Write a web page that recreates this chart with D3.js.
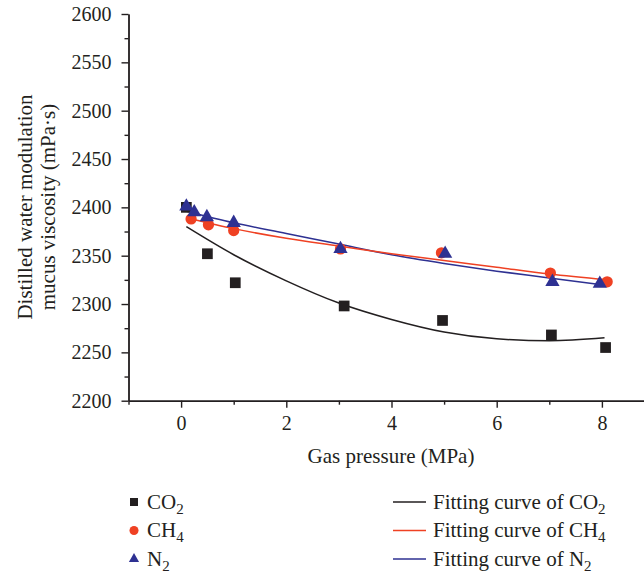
<!DOCTYPE html>
<html>
<head>
<meta charset="utf-8">
<script src="https://cdn.jsdelivr.net/npm/d3@7"></script>
<style>
  body { margin: 0; background: #fff; }
  svg { display: block; font-family: "Liberation Serif", "DejaVu Serif", serif; fill: #231f20; }
  .axis path, .axis line { stroke: #231f20; stroke-width: 1.4; }
  .axis text { font-size: 20px; fill: #231f20; font-family: "Liberation Serif", serif; }
</style>
</head>
<body>
<script>
// measured points (gas pressure MPa, viscosity mPa·s)
var co2X = [0.1, 0.5, 1.03, 3.1, 4.97, 7.04, 8.07];
var co2Y = [2400, 2352, 2322, 2298, 2283, 2268, 2255];
var ch4X = [0.19, 0.52, 1.0, 3.03, 4.95, 7.02, 8.1];
var ch4Y = [2388, 2382, 2376, 2357, 2353, 2332, 2323];
var n2X = [0.1, 0.25, 0.49, 1.0, 3.03, 5.02, 7.06, 7.96];
var n2Y = [2401, 2395, 2390, 2384, 2357, 2352, 2323, 2321];

// fitting curves
var co2FitX = [0.1, 1, 2, 3, 4, 5, 6, 7, 8.05];
var co2Fit = [2380, 2351, 2324, 2301, 2284, 2271, 2264, 2262, 2265];
var ch4FitX = [0.19, 1, 2, 3, 4, 5, 6, 7, 8.1];
var ch4Fit = [2388, 2378, 2368, 2360, 2352, 2345, 2338, 2331, 2325];
var n2FitX = [0.1, 1, 2, 3, 4, 5, 6, 7, 7.97];
var n2Fit = [2396, 2384, 2373, 2362, 2351, 2342, 2334, 2327, 2320];

var xMajor = [0, 2, 4, 6, 8];
var xMinor = [-1, 1, 3, 5, 7];
var yMajor = [2200, 2250, 2300, 2350, 2400, 2450, 2500, 2550, 2600];
var yMinor = [2225, 2275, 2325, 2375, 2425, 2475, 2525, 2575];

var BLACK = '#231f20', RED = '#ef4123', BLUE = '#2e3192';

var width = 644, height = 576;
var svg = d3.select('body').append('svg')
  .attr('width', width)
  .attr('height', height);

var x = d3.scaleLinear().domain([-1, 9]).range([128.5, 654.5]);
var y = d3.scaleLinear().domain([2200, 2600]).range([400.7, 14]);

function zip(xs, ys) {
  return xs.map(function(v, i) { return {x: v, y: ys[i]}; });
}

// axes
svg.append('g').attr('class', 'axis')
  .attr('transform', 'translate(0,' + y(2200) + ')')
  .call(d3.axisBottom(x).tickValues(xMinor).tickSize(4).tickFormat('').tickSizeOuter(0));
svg.append('g').attr('class', 'axis')
  .attr('transform', 'translate(0,' + y(2200) + ')')
  .call(d3.axisBottom(x).tickValues(xMajor).tickSize(7).tickPadding(8).tickFormat(d3.format('d')).tickSizeOuter(0));

svg.append('g').attr('class', 'axis')
  .attr('transform', 'translate(' + x(-1) + ',0)')
  .call(d3.axisLeft(y).tickValues(yMinor).tickSize(4).tickFormat('').tickSizeOuter(0));
svg.append('g').attr('class', 'axis')
  .attr('transform', 'translate(' + x(-1) + ',0)')
  .call(d3.axisLeft(y).tickValues(yMajor).tickSize(7).tickPadding(10).tickFormat(d3.format('d')).tickSizeOuter(0));

// axis titles
svg.append('text')
  .attr('x', 391).attr('y', 463)
  .attr('text-anchor', 'middle')
  .style('font-size', '21px')
  .text('Gas pressure (MPa)');

var yTitle = svg.append('text')
  .attr('transform', 'translate(32,207) rotate(-90)')
  .attr('text-anchor', 'middle')
  .style('font-size', '21px');
yTitle.append('tspan').attr('x', 0).attr('y', 0).text('Distilled water modulation');
yTitle.append('tspan').attr('x', 0).attr('y', 23).text('mucus viscosity (mPa\u00b7s)');

// fitting curves
var line = d3.line()
  .x(function(d) { return x(d.x); })
  .y(function(d) { return y(d.y); })
  .curve(d3.curveMonotoneX);

var fits = [
  {data: zip(co2FitX, co2Fit), color: BLACK},
  {data: zip(n2FitX, n2Fit), color: BLUE},
  {data: zip(ch4FitX, ch4Fit), color: RED}
];
fits.forEach(function(f) {
  svg.append('path')
    .datum(f.data)
    .attr('d', line)
    .attr('fill', 'none')
    .attr('stroke', f.color)
    .attr('stroke-width', 1.5);
});

// markers
var series = [
  {data: zip(co2X, co2Y), color: BLACK, type: d3.symbolSquare, size: 115},
  {data: zip(ch4X, ch4Y), color: RED, type: d3.symbolCircle, size: 100},
  {data: zip(n2X, n2Y), color: BLUE, type: d3.symbolTriangle, size: 88}
];
series.forEach(function(s) {
  svg.append('g').selectAll('path')
    .data(s.data)
    .enter().append('path')
      .attr('transform', function(d) { return 'translate(' + x(d.x) + ',' + y(d.y) + ')'; })
      .attr('d', d3.symbol().type(s.type).size(s.size))
      .attr('fill', s.color);
});

// legend
var legendRows = [
  {name: 'CO', sub: '2', color: BLACK, type: d3.symbolSquare, size: 64},
  {name: 'CH', sub: '4', color: RED, type: d3.symbolCircle, size: 64},
  {name: 'N', sub: '2', color: BLUE, type: d3.symbolTriangle, size: 45}
];

function labelWithSub(g, tx, ty, prefix, name, sub) {
  var t = g.append('text')
    .attr('x', tx).attr('y', ty)
    .style('font-size', '21px');
  t.append('tspan').text(prefix + name);
  t.append('tspan').attr('dy', 5).style('font-size', '15px').text(sub);
}

legendRows.forEach(function(r, i) {
  var cy = 502 + i * 28.5;
  var g = svg.append('g');
  g.append('path')
    .attr('transform', 'translate(134,' + cy + ')')
    .attr('d', d3.symbol().type(r.type).size(r.size))
    .attr('fill', r.color);
  labelWithSub(g, 147, cy + 6.5, '', r.name, r.sub);

  g.append('line')
    .attr('x1', 393).attr('x2', 426)
    .attr('y1', cy).attr('y2', cy)
    .attr('stroke', r.color)
    .attr('stroke-width', 1.5);
  labelWithSub(g, 433, cy + 6.5, 'Fitting curve of ', r.name, r.sub);
});
</script>
</body>
</html>
